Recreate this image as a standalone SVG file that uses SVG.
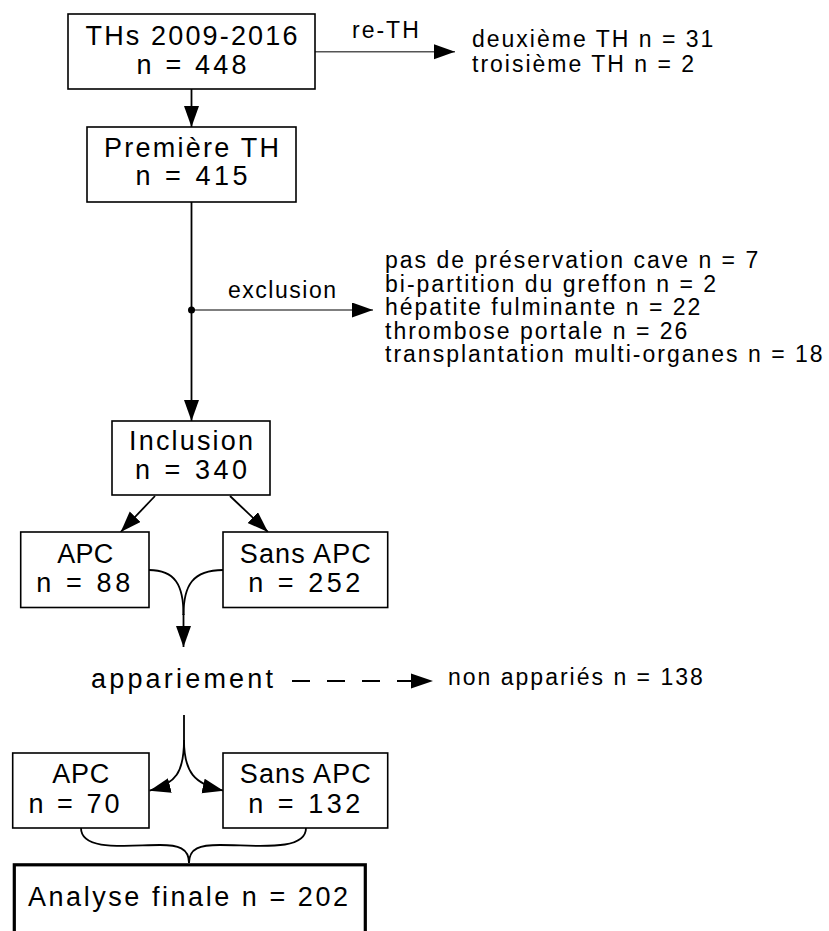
<svg xmlns="http://www.w3.org/2000/svg" width="829" height="931" viewBox="0 0 829 931">
<style>
  .box{fill:#fff;stroke:#000;stroke-width:1.6}
  .final{fill:#fff;stroke:#000;stroke-width:3.2}
  .bt{font-family:"Liberation Sans",Arial,sans-serif;font-size:27px;fill:#000;text-anchor:middle}
  .st{font-family:"Liberation Sans",Arial,sans-serif;font-size:23px;fill:#000;letter-spacing:2px}
  .edge{fill:none;stroke:#000;stroke-width:1.8}
  .gray{fill:none;stroke:#555;stroke-width:1.5}
</style>
<defs>
  <marker id="ah" markerUnits="userSpaceOnUse" markerWidth="24" markerHeight="18" refX="21" refY="7.5" orient="auto">
    <path d="M0,0 L21,7.5 L0,15 z" fill="#000"/>
  </marker>
</defs>
<rect width="829" height="931" fill="#fff"/>
<g id="connectors">
  <path class="edge" d="M191.5,89 L191.5,127" marker-end="url(#ah)"/>
  <path class="edge" d="M191.5,202 L191.5,421" marker-end="url(#ah)"/>
  <path class="gray" d="M315,51.7 L455,51.7" marker-end="url(#ah)"/>
  <path class="gray" d="M191.5,310 L373,310" marker-end="url(#ah)"/>
  <circle cx="191.5" cy="310" r="3.5" fill="#000"/>
  <path class="edge" d="M155,496 L120.7,532" marker-end="url(#ah)"/>
  <path class="edge" d="M230,496 L268,532" marker-end="url(#ah)"/>
  <path class="edge" d="M149,570 C175,570 183.5,585 183.5,615"/>
  <path class="edge" d="M223,570 C193,570 183.5,585 183.5,615"/>
  <path class="edge" d="M183.5,614 L183.5,647" marker-end="url(#ah)"/>
  <path class="edge" d="M292,681 L412,681" stroke-dasharray="18,17"/>
  <path d="M411,673.5 L433,681 L411,688.5 z" fill="#000"/>
  <path class="edge" d="M184,715 L184,740 C184,772 176,784 149.5,790.7" marker-end="url(#ah)"/>
  <path class="edge" d="M184,740 C184,772 194,784 223.5,790.7" marker-end="url(#ah)"/>
  <path class="edge" d="M81,828 C81,852 130,845 160,845 C178,845 189,848 189,863"/>
  <path class="edge" d="M306,828 C306,852 255,845 220,845 C200,845 189,848 189,863"/>
</g>
<g id="ths">
  <rect class="box" x="68" y="14" width="247" height="75"/>
  <text class="bt" x="191.5" y="45" textLength="212" lengthAdjust="spacing">THs 2009-2016</text>
  <text class="bt" x="191.5" y="74" textLength="110" lengthAdjust="spacing">n = 448</text>
</g>
<g id="reth-label">
  <text class="st" x="352" y="38">re-TH</text>
</g>
<g id="reth">
  <text class="st" x="472" y="46.5">deuxième TH n = 31</text>
  <text class="st" x="472" y="71.5">troisième TH n = 2</text>
</g>
<g id="premiere">
  <rect class="box" x="87" y="127" width="209" height="75"/>
  <text class="bt" x="191.5" y="157" textLength="175" lengthAdjust="spacing">Première TH</text>
  <text class="bt" x="191.5" y="185" textLength="112" lengthAdjust="spacing">n = 415</text>
</g>
<g id="exclusion-label">
  <text class="st" x="283" y="298" text-anchor="middle" textLength="110" lengthAdjust="spacing">exclusion</text>
</g>
<g id="exclusion">
  <text class="st" x="385" y="268">pas de préservation cave n = 7</text>
  <text class="st" x="385" y="291.5">bi-partition du greffon n = 2</text>
  <text class="st" x="385" y="315">hépatite fulminante n = 22</text>
  <text class="st" x="385" y="338.5">thrombose portale n = 26</text>
  <text class="st" x="385" y="362">transplantation multi-organes n = 18</text>
</g>
<g id="inclusion">
  <rect class="box" x="112" y="421" width="158" height="74"/>
  <text class="bt" x="191" y="450" textLength="124" lengthAdjust="spacing">Inclusion</text>
  <text class="bt" x="191" y="479" textLength="112" lengthAdjust="spacing">n = 340</text>
</g>
<g id="apc1">
  <rect class="box" x="20.7" y="532" width="128.3" height="75.5"/>
  <text class="bt" x="85.3" y="562.7" textLength="56" lengthAdjust="spacing">APC</text>
  <text class="bt" x="83.3" y="591.7" textLength="94" lengthAdjust="spacing">n = 88</text>
</g>
<g id="sansapc1">
  <rect class="box" x="223" y="532" width="164.7" height="75.5"/>
  <text class="bt" x="305.3" y="562.7" textLength="131" lengthAdjust="spacing">Sans APC</text>
  <text class="bt" x="304.3" y="591.7" textLength="112" lengthAdjust="spacing">n = 252</text>
</g>
<g id="appariement">
  <text class="bt" x="182" y="688" textLength="182" lengthAdjust="spacing">appariement</text>
</g>
<g id="nonapparies">
  <text class="st" x="448" y="685">non appariés n = 138</text>
</g>
<g id="apc2">
  <rect class="box" x="12.7" y="753" width="136.3" height="75"/>
  <text class="bt" x="80.8" y="783" textLength="57" lengthAdjust="spacing">APC</text>
  <text class="bt" x="74" y="813" textLength="91" lengthAdjust="spacing">n = 70</text>
</g>
<g id="sansapc2">
  <rect class="box" x="223" y="753" width="164.7" height="75"/>
  <text class="bt" x="305.3" y="783" textLength="131" lengthAdjust="spacing">Sans APC</text>
  <text class="bt" x="304.3" y="813" textLength="112" lengthAdjust="spacing">n = 132</text>
</g>
<g id="final">
  <rect class="final" x="14.3" y="864.8" width="351" height="90"/>
  <text class="bt" x="188" y="906" textLength="320" lengthAdjust="spacing">Analyse finale n = 202</text>
</g>
</svg>
